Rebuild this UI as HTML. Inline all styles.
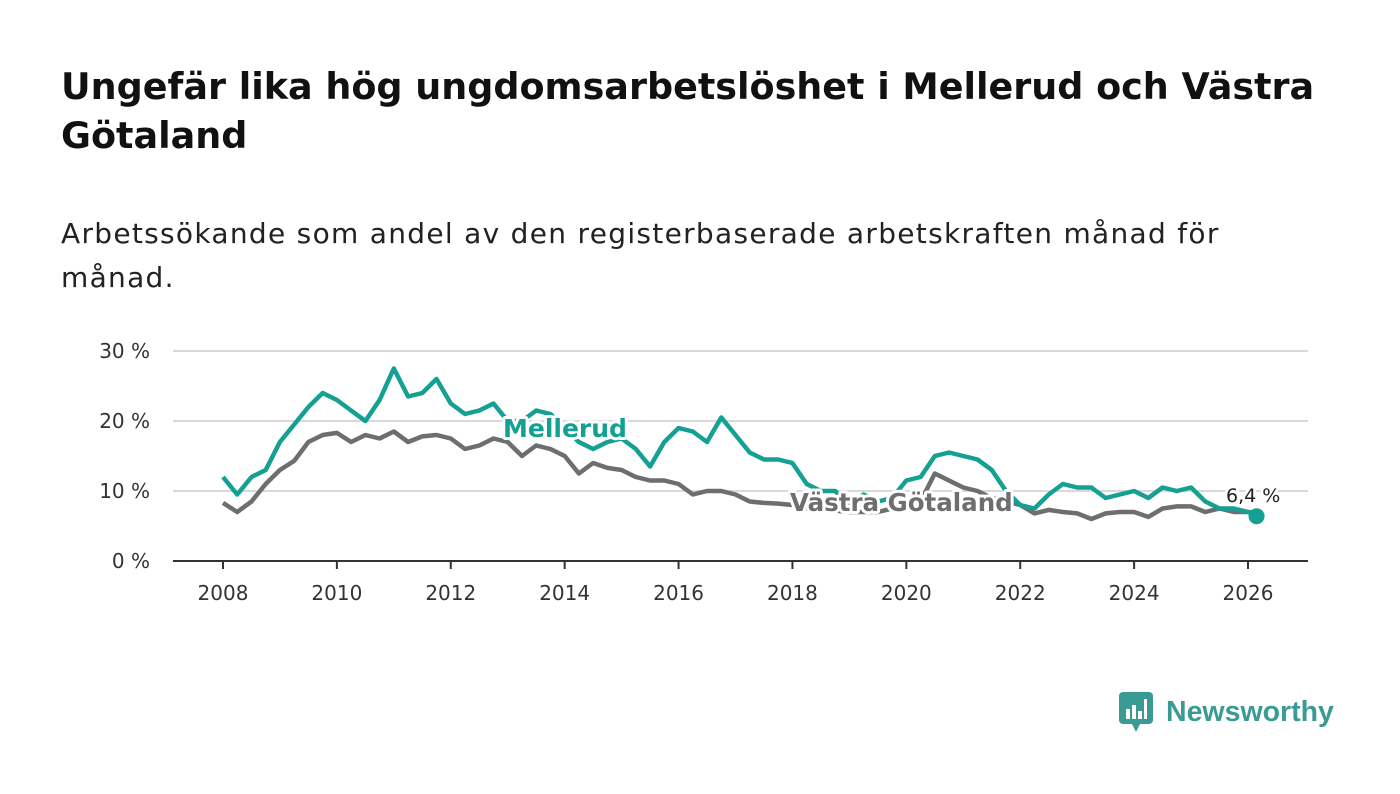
<!DOCTYPE html>
<html><head><meta charset="utf-8"><style>
body{margin:0;width:1400px;height:794px;background:#fff;font-family:"DejaVu Sans","Liberation Sans",sans-serif;overflow:hidden;position:relative}
h1{position:absolute;left:61px;top:62px;margin:0;font-size:36.5px;line-height:49px;font-weight:bold;color:#111;white-space:nowrap}
.sub{position:absolute;left:61px;top:212px;font-size:28px;line-height:44px;color:#222;white-space:nowrap;letter-spacing:1.3px}
svg{position:absolute;left:0;top:0}
</style></head><body>
<h1>Ungefär lika hög ungdomsarbetslöshet i Mellerud och Västra<br>Götaland</h1>
<div class="sub">Arbetssökande som andel av den registerbaserade arbetskraften månad för<br>månad.</div>
<svg id="c" width="1400" height="794"></svg>
<script>
const startYear=2008, step=0.25;
const mellerud=[12,9.5,12,13,17,19.5,22,24,23,21.5,20,23,27.5,23.5,24,26,22.5,21,21.5,22.5,20,20,21.5,21,19,17,16,17,17.5,16,13.5,17,19,18.5,17,20.5,18,15.5,14.5,14.5,14,11,10,10,8,9.5,8.5,9,11.5,12,15,15.5,15,14.5,13,10,8,7.5,9.5,11,10.5,10.5,9,9.5,10,9,10.5,10,10.5,8.5,7.5,7.5,7];
const vastra=[8.3,7,8.5,11,13,14.3,17,18,18.3,17,18,17.5,18.5,17,17.8,18,17.5,16,16.5,17.5,17,15,16.5,16,15,12.5,14,13.3,13,12,11.5,11.5,11,9.5,10,10,9.5,8.5,8.3,8.2,8,7.5,7.5,7.2,7,7,7,7.5,8,8.5,12.5,11.5,10.5,10,9,8.5,8,6.8,7.3,7,6.8,6,6.8,7,7,6.3,7.5,7.8,7.8,7,7.5,7,7];
const lastX=2026.15, lastM=6.4, lastV=6.9;
const yTicks=[0,10,20,30], yLabels=["0 %","10 %","20 %","30 %"];
const xTicks=[2008,2010,2012,2014,2016,2018,2020,2022,2024,2026];
const NS="http://www.w3.org/2000/svg", svg=document.getElementById('c');
const X=t=>223+(t-2008)*1025/18, Y=v=>561-v*7;
function mk(tag,at){const e=document.createElementNS(NS,tag);for(const k in at)e.setAttribute(k,at[k]);svg.appendChild(e);return e;}
yTicks.forEach((v,i)=>{
 if(v>0){const g=mk('line',{x1:173,x2:1308,y1:Y(v),y2:Y(v),stroke:'#d9d9d9','stroke-width':2});
 
 }
 const t=mk('text',{x:150,y:Y(v)+7,'text-anchor':'end','font-size':20,fill:'#333'});t.textContent=yLabels[i];
 
 
});
const ax=mk('line',{x1:173,x2:1308,y1:561,y2:561,stroke:'#333','stroke-width':2});


xTicks.forEach(yr=>{
 const tk=mk('line',{x1:X(yr),x2:X(yr),y1:561,y2:569,stroke:'#333','stroke-width':2});
 
 
 const t=mk('text',{x:X(yr),y:600,'text-anchor':'middle','font-size':20,fill:'#333'});t.textContent=yr;
 
 
});
function path(arr,last){let p=arr.map((v,i)=>(i?'L':'M')+X(startYear+i*step).toFixed(1)+','+Y(v).toFixed(1)).join('');return p+'L'+X(lastX)+','+Y(last);}
const pv=mk('path',{d:path(vastra,lastV),fill:'none',stroke:'#6e6d70','stroke-width':4.5,'stroke-linejoin':'round'});


const pm=mk('path',{d:path(mellerud,lastM),fill:'none',stroke:'#14a092','stroke-width':4.5,'stroke-linejoin':'round'});


const dot=mk('circle',{cx:X(lastX),cy:Y(lastM),r:8,fill:'#14a092'});


function lab(txt,x,y,col,size,w,name){const t=mk('text',{x:x,y:y,'font-size':size,'font-weight':w,fill:col,stroke:'#fff','stroke-width':6,'paint-order':'stroke','stroke-linejoin':'round'});t.textContent=txt;
 
 }
lab('Mellerud',503,437,'#14a092',25,'bold','mellerud-label');
lab('Västra Götaland',790,511,'#6e6d70',24.5,'bold','vastra-gotaland-label');
lab('6,4 %',1226,502,'#222',19,'normal','last-value-label');
</script>
<div style="position:absolute;left:1118px;top:692px;height:40px;display:flex;align-items:center">
 <svg width="36" height="42" viewBox="0 0 36 42" style="position:static"><rect x="1" y="1" width="34" height="32" rx="4" fill="#3a9b94"/><polygon points="14,33 22,33 18,41" fill="#3a9b94"/><rect x="8" y="18" width="4" height="10" fill="#fff"/><rect x="14" y="14" width="4" height="14" fill="#fff"/><rect x="20" y="20" width="4" height="8" fill="#fff"/><rect x="26" y="8" width="3" height="20" fill="#fff"/></svg>
 <span style="margin-left:12px;font-size:28.5px;font-weight:bold;color:#3a9b94;font-family:'Liberation Sans',sans-serif">Newsworthy</span>
</div>
</body></html>
